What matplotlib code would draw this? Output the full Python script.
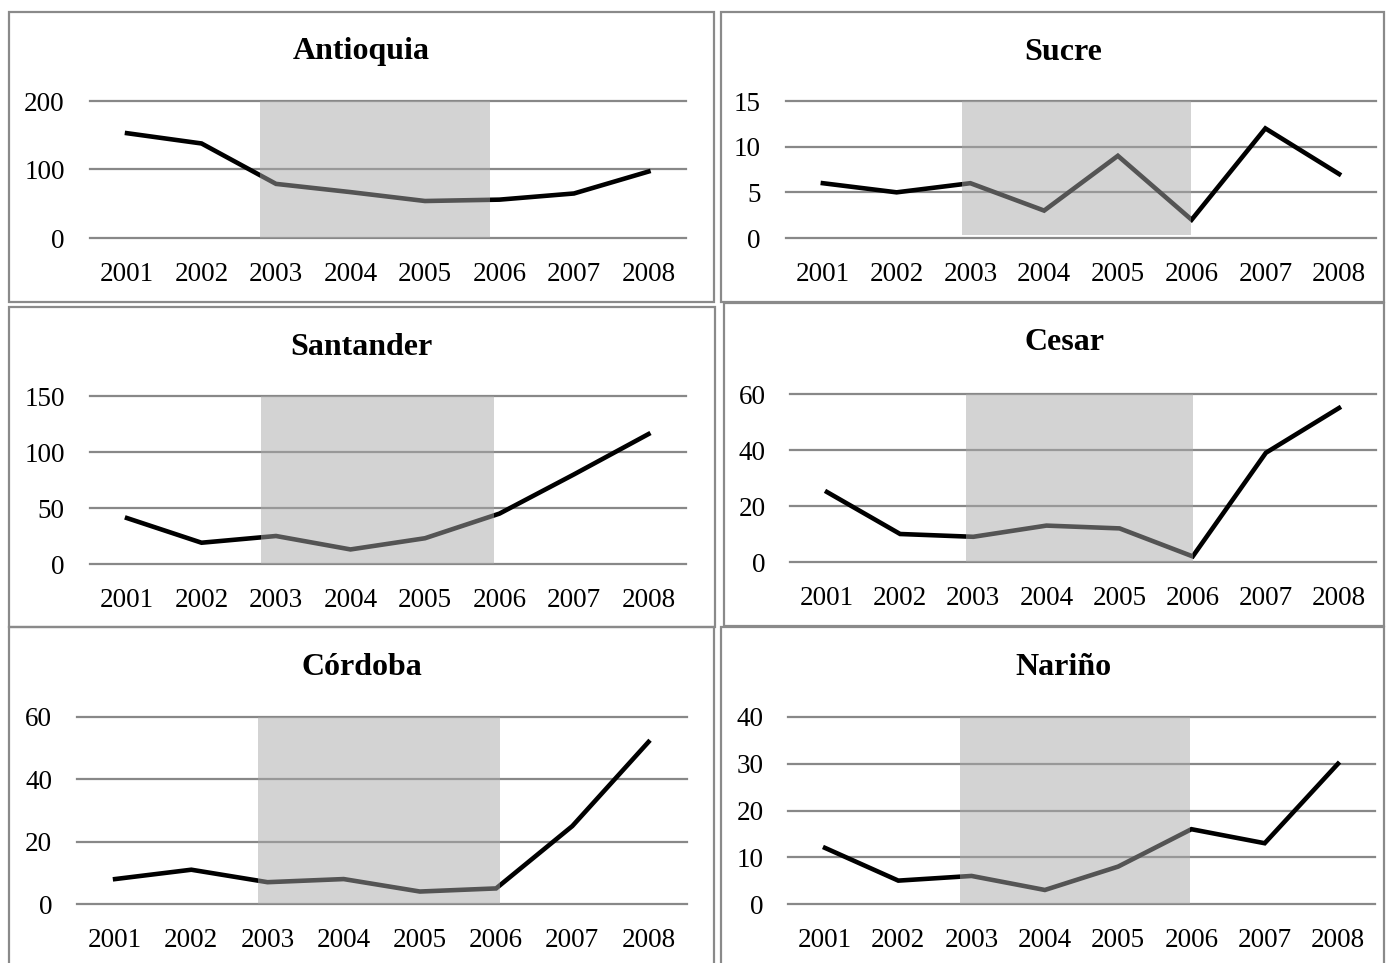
import matplotlib.pyplot as plt
from matplotlib.patches import Rectangle

plt.rcParams['font.family'] = ['Liberation Serif', 'DejaVu Serif']

years = [2001, 2002, 2003, 2004, 2005, 2006, 2007, 2008]

antioquia = [153, 138, 79, 67, 54, 56, 65, 97]
sucre = [6, 5, 6, 3, 9, 2, 12, 7]
santander = [41, 19, 25, 13, 23, 45, 80, 116]
cesar = [25, 10, 9, 13, 12, 2, 39, 55]
cordoba = [8, 11, 7, 8, 4, 5, 25, 52]
narino = [12, 5, 6, 3, 8, 16, 13, 30]

yticks_antioquia = [0, 100, 200]
yticks_sucre = [0, 5, 10, 15]
yticks_santander = [0, 50, 100, 150]
yticks_cesar = [0, 20, 40, 60]
yticks_cordoba = [0, 20, 40, 60]
yticks_narino = [0, 10, 20, 30, 40]

W, H = 1387, 963
fig = plt.figure(figsize=(W / 100, H / 100), dpi=100)

# (title, values, yticks, box px, axes px, title px, shade span, shade ymin)
panels = [
    ("Antioquia", antioquia, yticks_antioquia, (9, 12, 714, 302),
     (89.8, 101, 685.7, 238), (361, 52), (2002.79, 2005.87), 0),
    ("Sucre", sucre, yticks_sucre, (721, 12, 1384, 302),
     (786, 101, 1376, 238), (1063, 52), (2002.89, 2005.99), 0.022),
    ("Santander", santander, yticks_santander, (9, 307, 715, 627),
     (89.8, 396, 685.7, 564), (361, 347), (2002.80, 2005.92), 0),
    ("Cesar", cesar, yticks_cesar, (724, 303, 1384, 626),
     (790.4, 394, 1375.6, 562), (1065, 343), (2002.90, 2006.0), 0),
    ("Córdoba", cordoba, yticks_cordoba, (9, 627, 714, 966),
     (77, 717, 686.6, 904), (362, 667), (2002.88, 2006.05), 0),
    ("Nariño", narino, yticks_narino, (721, 627, 1384, 966),
     (788.4, 717, 1374.6, 904), (1063, 667), (2002.84, 2005.98), 0),
]

for title, vals, yt, box, axp, tp, span, ymin in panels:
    bx0, by0, bx1, by1 = box
    fig.add_artist(Rectangle((bx0 / W, 1 - by1 / H), (bx1 - bx0) / W, (by1 - by0) / H,
                             transform=fig.transFigure, fill=False,
                             edgecolor='#8a8a8a', lw=1.6))

    l, t, r, b = axp
    ax = fig.add_axes([l / W, 1 - b / H, (r - l) / W, (b - t) / H])
    ax.plot(years, vals, color='black', lw=3.3, zorder=3, solid_joinstyle='miter')
    ax.axvspan(span[0], span[1], ymin=ymin, ymax=1, color='#a8a8a8', alpha=0.5,
               lw=0, zorder=4)
    ax.set_xlim(2000.5, 2008.5)
    ax.set_ylim(yt[0], yt[-1])
    ax.set_yticks(yt)
    ax.set_xticks(years)
    ax.set_xticklabels([str(y) for y in years])
    ax.tick_params(length=0, labelsize=19.5)
    ax.tick_params(axis='y', pad=18)
    ax.tick_params(axis='x', pad=17)
    for s in ax.spines.values():
        s.set_visible(False)
    ax.yaxis.grid(True, color='#888888', lw=1.6)
    for g in ax.get_ygridlines():
        g.set_clip_on(False)
    ax.set_axisbelow(True)

    fig.text(tp[0] / W, 1 - tp[1] / H, title, ha='center', va='center',
             fontsize=23, fontweight='bold')

fig.savefig('out.png', dpi=100)
